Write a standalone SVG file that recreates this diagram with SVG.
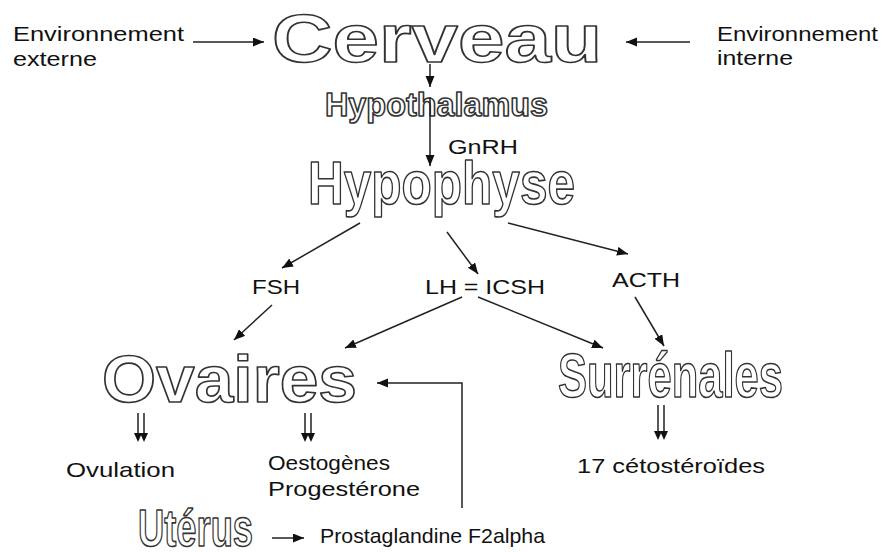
<svg xmlns="http://www.w3.org/2000/svg" width="891" height="552" viewBox="0 0 891 552">
<style>
.o{font-family:"Liberation Sans",Arial,sans-serif;font-weight:bold;fill:#fff;stroke:#333;stroke-width:1.6;stroke-linejoin:round}
.t{font-family:"Liberation Sans",Arial,sans-serif;font-size:21px;fill:#111}
.c{fill:none;stroke:#222;stroke-width:1.5}
.h{fill:#111}
</style>
<defs>
<marker id="a" markerUnits="userSpaceOnUse" markerWidth="12" markerHeight="10" refX="11" refY="4.5" orient="auto">
<path d="M0,0 L11,4.5 L0,9 z" fill="#111"/>
</marker>
</defs>
<rect width="891" height="552" fill="#fff"/>
<g id="env-externe"><text class="t" x="13" y="41" textLength="171" lengthAdjust="spacingAndGlyphs">Environnement</text><text class="t" x="13" y="66" textLength="84" lengthAdjust="spacingAndGlyphs">externe</text></g>
<g id="env-interne"><text class="t" x="717" y="41" textLength="161" lengthAdjust="spacingAndGlyphs">Environnement</text><text class="t" x="717" y="65" textLength="76" lengthAdjust="spacingAndGlyphs">interne</text></g>
<g id="cerveau"><text class="o" x="272" y="62" font-size="68" textLength="330" lengthAdjust="spacingAndGlyphs">Cerveau</text></g>
<g id="hypothalamus"><text class="o" x="325" y="116" font-size="33" stroke-width="1.3" textLength="223" lengthAdjust="spacingAndGlyphs">Hypothalamus</text></g>
<g id="gnrh"><text class="t" x="448" y="154" font-size="19" textLength="70" lengthAdjust="spacingAndGlyphs">GnRH</text></g>
<g id="hypophyse"><text class="o" x="308" y="204" font-size="62" textLength="267" lengthAdjust="spacingAndGlyphs">Hypophyse</text></g>
<g id="fsh"><text class="t" x="252" y="294" textLength="48" lengthAdjust="spacingAndGlyphs">FSH</text></g>
<g id="lh"><text class="t" x="425" y="294" textLength="120" lengthAdjust="spacingAndGlyphs">LH = ICSH</text></g>
<g id="acth"><text class="t" x="612" y="287" textLength="68" lengthAdjust="spacingAndGlyphs">ACTH</text></g>
<g id="ovaires"><text class="o" x="102" y="402" font-size="66" textLength="255" lengthAdjust="spacingAndGlyphs">Ovaires</text></g>
<g id="surrenales"><text class="o" x="558" y="397" font-size="63" textLength="225" lengthAdjust="spacingAndGlyphs">Surrénales</text></g>
<g id="ovulation"><text class="t" x="66" y="477" textLength="109" lengthAdjust="spacingAndGlyphs">Ovulation</text></g>
<g id="hormones"><text class="t" x="268" y="470" textLength="122" lengthAdjust="spacingAndGlyphs">Oestogènes</text><text class="t" x="268" y="496" textLength="152" lengthAdjust="spacingAndGlyphs">Progestérone</text></g>
<g id="cetosteroides"><text class="t" x="577" y="473" textLength="188" lengthAdjust="spacingAndGlyphs">17 cétostéroïdes</text></g>
<g id="uterus"><text class="o" x="138" y="546" font-size="51" textLength="115" lengthAdjust="spacingAndGlyphs">Utérus</text></g>
<g id="prostaglandine"><text class="t" x="320" y="543" font-size="19" textLength="225" lengthAdjust="spacingAndGlyphs">Prostaglandine F2alpha</text></g>
<g id="connectors">
<path class="c" d="M193,42 L264,42" marker-end="url(#a)"/>
<path class="c" d="M690,42 L626,42" marker-end="url(#a)"/>
<path class="c" d="M430,64 L430,87" marker-end="url(#a)"/>
<path class="c" d="M430,97 L430,166" marker-end="url(#a)"/>
<path class="c" d="M360,223 L282,268" marker-end="url(#a)"/>
<path class="c" d="M447,232 L478,274" marker-end="url(#a)"/>
<path class="c" d="M508,223 L628,254" marker-end="url(#a)"/>
<path class="c" d="M272,305 L234,340" marker-end="url(#a)"/>
<path class="c" d="M462,297 L345,348" marker-end="url(#a)"/>
<path class="c" d="M478,297 L603,348" marker-end="url(#a)"/>
<path class="c" d="M635,297 L664,346" marker-end="url(#a)"/>
<path class="c" d="M462,508 L462,383 L377,383" marker-end="url(#a)"/>
<path class="c" d="M272,538 L304,538" marker-end="url(#a)"/>
<path class="c" d="M138,413 L138,434 M144,413 L144,434 M305,413 L305,434 M311,413 L311,434 M658,405 L658,432 M664,405 L664,432"/>
<path class="h" d="M134,433 L142,433 L138,442 z M140,433 L148,433 L144,442 z M301,433 L309,433 L305,442 z M307,433 L315,433 L311,442 z M654,431 L662,431 L658,440 z M660,431 L668,431 L664,440 z"/>
</g>
</svg>
